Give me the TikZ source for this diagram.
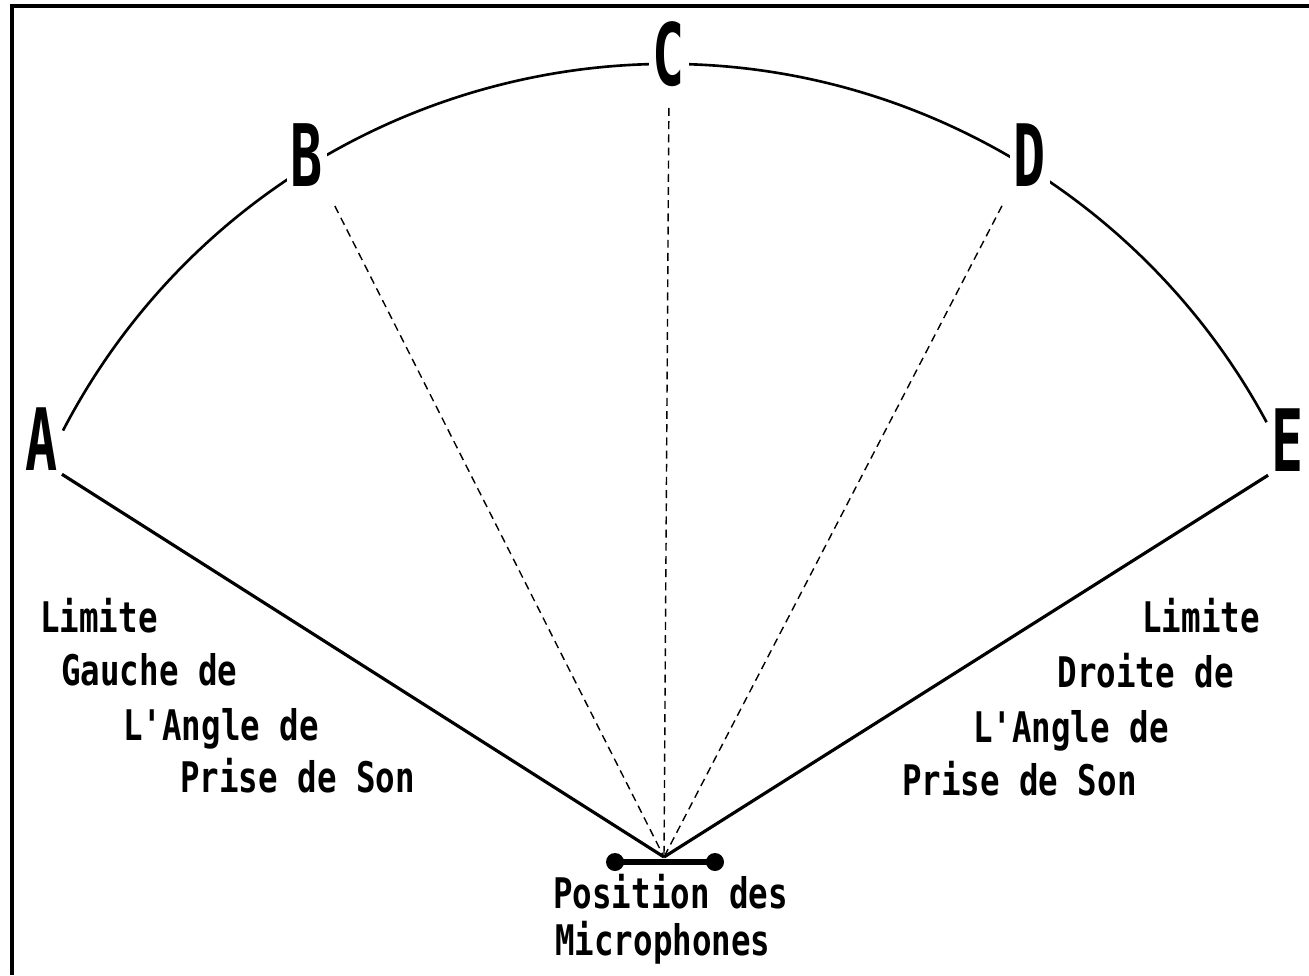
\documentclass[tikz,border=0pt]{standalone}
\usepackage{fontspec}
\usepackage{tikz}
\usetikzlibrary{positioning, calc}
\newfontfamily\letterfont{DejaVu Sans Mono}[FakeStretch=0.62, UprightFont={* Bold}]
\newfontfamily\labelfont{DejaVu Sans Mono}[FakeStretch=0.77, UprightFont={* Bold}]

\begin{document}
\begin{tikzpicture}[x=0.02cm, y=-0.02cm,
    letter/.style={fill=white, inner sep=2pt, font=\letterfont\fontsize{49}{49}\selectfont},
    lbl/.style={inner sep=0pt, font=\labelfont\fontsize{24}{24}\selectfont},
    limit/.style={line width=1.8pt},
    axis/.style={line width=0.8pt, dash pattern=on 4.5pt off 3pt, shorten <=10pt}]
        \useasboundingbox (0,0) rectangle (1309,975);

        % Frame
        \draw[line width=2.3pt] (12,975) -- (12,6) -- (1309,6);

        % Arc
        \coordinate (ctr) at (667,745);
        \draw[line width=1.5pt] ([shift={(ctr)}]-152.5:681) arc[start angle=-152.5, end angle=-28.3, radius=681];

        % Letters
        \node[letter] (A) at (42,439) {A};
        \node[letter] (B) at (307,155) {B};
        \node[letter] (C) at (669,54) {C};
        \node[letter] (D) at (1030,155) {D};
        \node[letter] (E) at (1288,440) {E};

        % Microphones
        \coordinate (mic) at (664,857);
        \coordinate (micL) at (615,862);
        \coordinate (micR) at (715,862);
        \draw[line width=3.6pt] (micL) -- (micR);
        \fill (micL) circle (9);
        \fill (micR) circle (9);

        % Lines
        \draw[limit] (A.south east) -- (mic);
        \draw[limit] (E.south west) -- (mic);
        \draw[axis] (B.south east) -- (mic);
        \draw[axis] (C.south) -- (mic);
        \draw[axis] (D.south west) -- (mic);

        % Left text
        \node[lbl, anchor=base west] (l1) at (40,632) {Limite};
        \node[lbl, anchor=base west] (l2) at (61,685) {Gauche de};
        \node[lbl, anchor=base west] (l3) at (123,740) {L'Angle de};
        \node[lbl, anchor=base west] (l4) at (180,792) {Prise de Son};

        % Right text
        \node[lbl, anchor=base east] (r1) at (1260,632) {Limite};
        \node[lbl, anchor=base east] (r2) at (1234,687) {Droite de};
        \node[lbl, anchor=base east] (r3) at (1169,742) {L'Angle de};
        \node[lbl, anchor=base east] (r4) at (1137,795) {Prise de Son};

        % Bottom text
        \node[lbl, anchor=base west] (m1) at (553,908) {Position des};
        \node[lbl, anchor=base west] (m2) at (555,955) {Microphones};
    \end{tikzpicture}
\end{document}
